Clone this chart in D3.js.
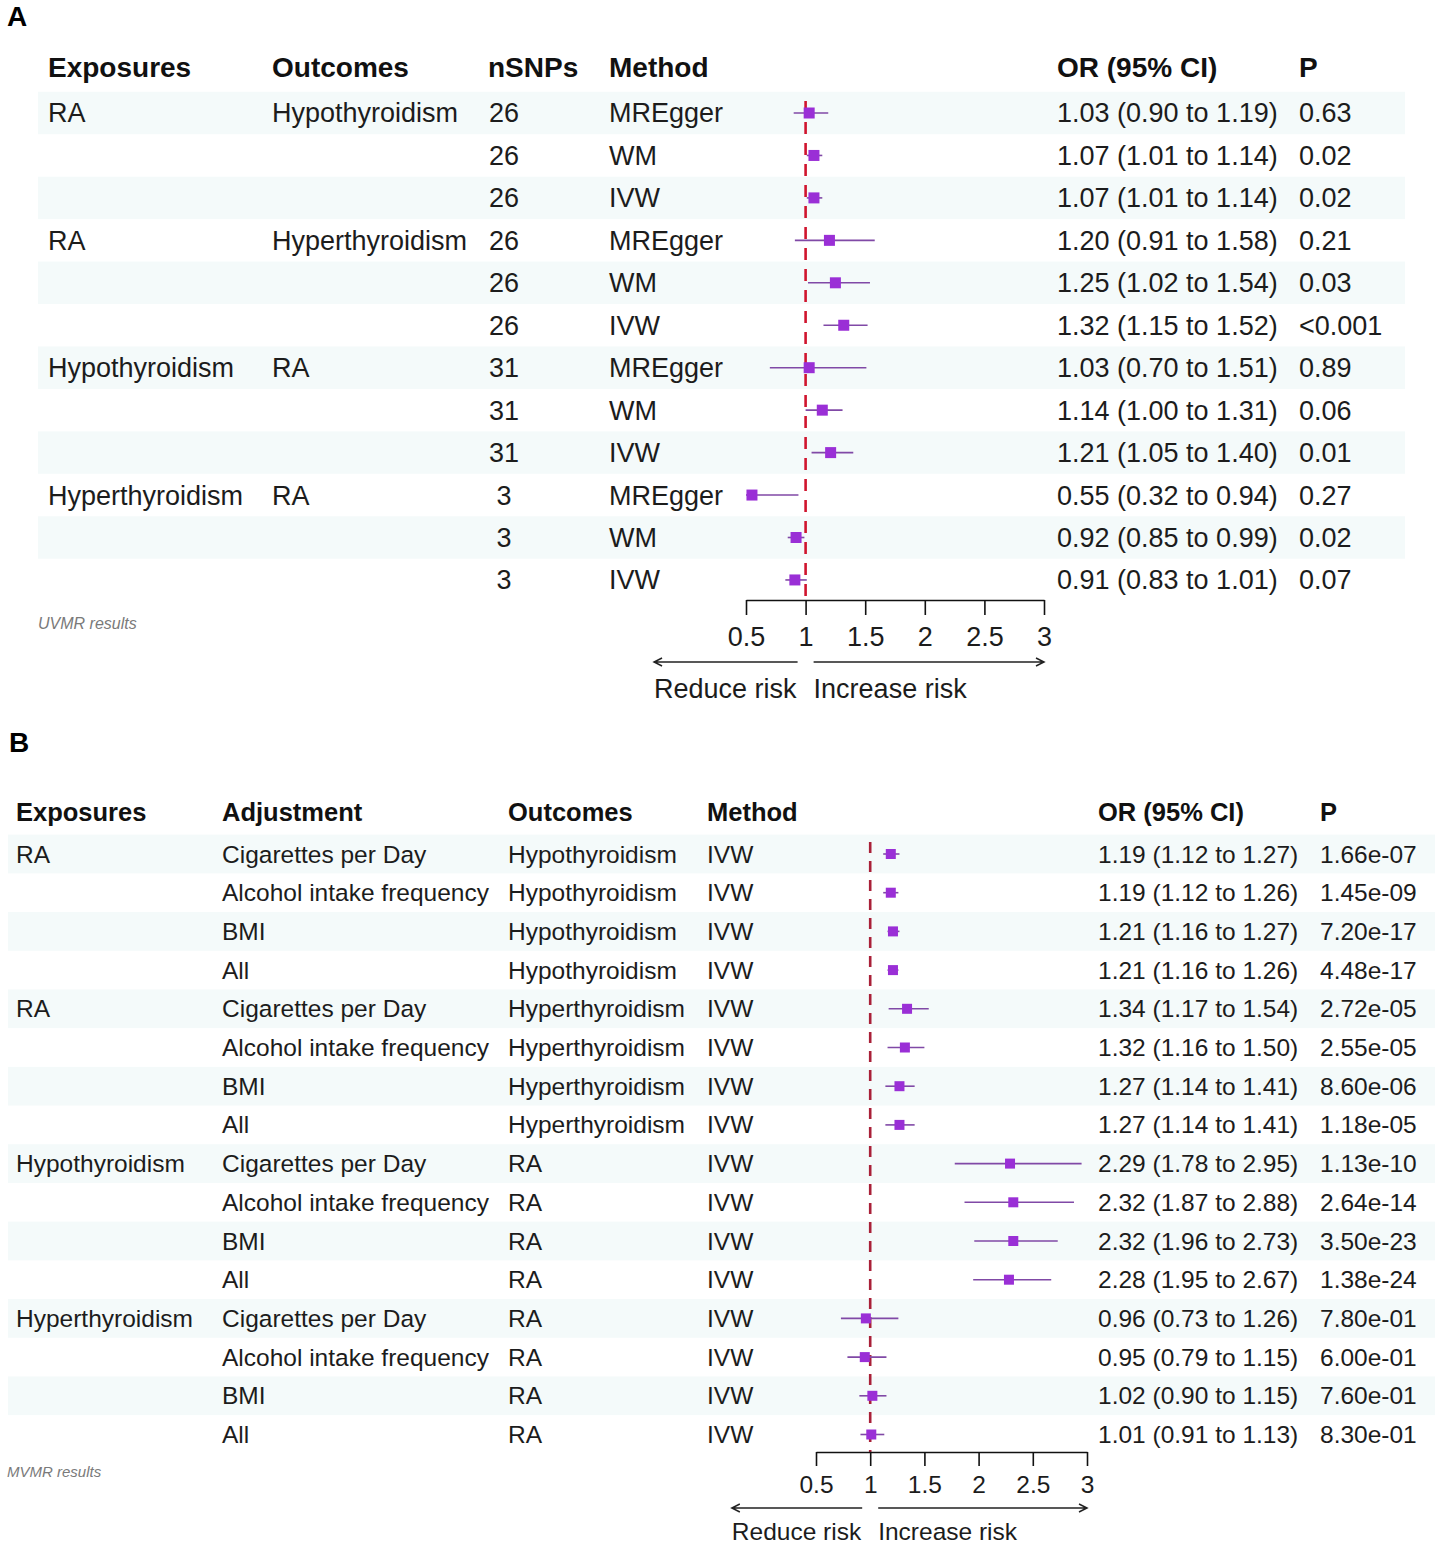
<!DOCTYPE html>
<html>
<head>
<meta charset="utf-8">
<script src="https://cdn.jsdelivr.net/npm/d3@7"></script>
<style>
    body { margin: 0; background: #fff; }
    svg { display: block; font-family: "Liberation Sans", Arial, sans-serif; }
</style>
</head>
<body>
<div id="chart"></div>
<script>
//Colores
let band_color = '#f4fafa';
let box_color = '#9a2fd6';
let ci_color = '#8049a6';
let text_color = '#1c1c1c';

//Datos panel A (UVMR)
let aExposure = ['RA', '', '', 'RA', '', '', 'Hypothyroidism', '', '', 'Hyperthyroidism', '', ''];
let aOutcome = ['Hypothyroidism', '', '', 'Hyperthyroidism', '', '', 'RA', '', '', 'RA', '', ''];
let aSnps = [26, 26, 26, 26, 26, 26, 31, 31, 31, 3, 3, 3];
let aMethod = ['MREgger', 'WM', 'IVW', 'MREgger', 'WM', 'IVW', 'MREgger', 'WM', 'IVW', 'MREgger', 'WM', 'IVW'];
let aOr = [1.03, 1.07, 1.07, 1.20, 1.25, 1.32, 1.03, 1.14, 1.21, 0.55, 0.92, 0.91];
let aLow = [0.90, 1.01, 1.01, 0.91, 1.02, 1.15, 0.70, 1.00, 1.05, 0.32, 0.85, 0.83];
let aHigh = [1.19, 1.14, 1.14, 1.58, 1.54, 1.52, 1.51, 1.31, 1.40, 0.94, 0.99, 1.01];
let aP = ['0.63', '0.02', '0.02', '0.21', '0.03', '<0.001', '0.89', '0.06', '0.01', '0.27', '0.02', '0.07'];

//Datos panel B (MVMR)
let bExposure = ['RA', '', '', '', 'RA', '', '', '', 'Hypothyroidism', '', '', '', 'Hyperthyroidism', '', '', ''];
let bAdjust = ['Cigarettes per Day', 'Alcohol intake frequency', 'BMI', 'All',
    'Cigarettes per Day', 'Alcohol intake frequency', 'BMI', 'All',
    'Cigarettes per Day', 'Alcohol intake frequency', 'BMI', 'All',
    'Cigarettes per Day', 'Alcohol intake frequency', 'BMI', 'All'];
let bOutcome = ['Hypothyroidism', 'Hypothyroidism', 'Hypothyroidism', 'Hypothyroidism',
    'Hyperthyroidism', 'Hyperthyroidism', 'Hyperthyroidism', 'Hyperthyroidism',
    'RA', 'RA', 'RA', 'RA', 'RA', 'RA', 'RA', 'RA'];
let bMethod = ['IVW', 'IVW', 'IVW', 'IVW', 'IVW', 'IVW', 'IVW', 'IVW', 'IVW', 'IVW', 'IVW', 'IVW', 'IVW', 'IVW', 'IVW', 'IVW'];
let bOr = [1.19, 1.19, 1.21, 1.21, 1.34, 1.32, 1.27, 1.27, 2.29, 2.32, 2.32, 2.28, 0.96, 0.95, 1.02, 1.01];
let bLow = [1.12, 1.12, 1.16, 1.16, 1.17, 1.16, 1.14, 1.14, 1.78, 1.87, 1.96, 1.95, 0.73, 0.79, 0.90, 0.91];
let bHigh = [1.27, 1.26, 1.27, 1.26, 1.54, 1.50, 1.41, 1.41, 2.95, 2.88, 2.73, 2.67, 1.26, 1.15, 1.15, 1.13];
let bP = ['1.66e-07', '1.45e-09', '7.20e-17', '4.48e-17', '2.72e-05', '2.55e-05', '8.60e-06', '1.18e-05',
    '1.13e-10', '2.64e-14', '3.50e-23', '1.38e-24', '7.80e-01', '6.00e-01', '7.60e-01', '8.30e-01'];

//Ticks del eje
let axisTicks = [0.5, 1, 1.5, 2, 2.5, 3];

let svg = d3.select('#chart').append('svg')
    .attr('width', 1442)
    .attr('height', 1550);

function fmtCi(o, l, h) {
    return `${o.toFixed(2)} (${l.toFixed(2)} to ${h.toFixed(2)})`;
}

/* Forest plot genérico */
function drawForest(cfg) {
    let g = svg.append('g');
    let n = cfg.or.length;

    //Etiqueta del panel
    g.append('text')
        .attr('x', cfg.label.x).attr('y', cfg.label.y)
        .style('font-weight', 'bold').style('font-size', '28px')
        .attr('fill', '#000')
        .text(cfg.label.text);

    let y = function(i) { return cfg.top + i * cfg.rowH; };

    //Bandas alternas
    g.selectAll('.band')
        .data(d3.range(n).filter(function(i) { return i % 2 == 0; }))
        .enter().append('rect')
        .attr('x', cfg.bandX[0])
        .attr('width', cfg.bandX[1] - cfg.bandX[0])
        .attr('y', function(i) { return y(i) - cfg.rowH / 2; })
        .attr('height', cfg.rowH)
        .attr('fill', band_color);

    //Cabecera
    cfg.columns.forEach(function(c) {
        g.append('text')
            .attr('x', c.x).attr('y', cfg.headerY)
            .attr('dy', '0.35em')
            .style('font-weight', 'bold')
            .style('font-size', cfg.headSize + 'px')
            .attr('fill', '#111')
            .text(c.title);

        g.selectAll(null)
            .data(c.values)
            .enter().append('text')
            .attr('x', c.center ? c.center : c.x)
            .attr('text-anchor', c.center ? 'middle' : 'start')
            .attr('y', function(d, i) { return y(i); })
            .attr('dy', '0.35em')
            .style('font-size', cfg.fontSize + 'px')
            .attr('fill', text_color)
            .text(function(d) { return d; });
    });

    //Escala X
    let x = d3.scaleLinear()
        .domain([0.5, 3])
        .range(cfg.xRange);

    //Línea de referencia
    g.append('line')
        .attr('x1', x(1)).attr('x2', x(1))
        .attr('y1', y(0) - 12)
        .attr('y2', cfg.axisY)
        .attr('stroke', cfg.refColor)
        .attr('stroke-width', 2.6)
        .attr('stroke-dasharray', cfg.dash);

    //Intervalos de confianza
    g.selectAll('.ci')
        .data(d3.range(n))
        .enter().append('line')
        .attr('x1', function(i) { return x(Math.max(0.5, cfg.low[i])); })
        .attr('x2', function(i) { return x(Math.min(3, cfg.high[i])); })
        .attr('y1', function(i) { return y(i); })
        .attr('y2', function(i) { return y(i); })
        .attr('stroke', ci_color)
        .attr('stroke-width', 1.6);

    //Cajas
    let s = cfg.box;
    g.selectAll('.box')
        .data(d3.range(n))
        .enter().append('rect')
        .attr('x', function(i) { return x(cfg.or[i]) - s / 2; })
        .attr('y', function(i) { return y(i) - s / 2; })
        .attr('width', s).attr('height', s)
        .attr('fill', box_color);

    //Eje X
    let xAxis = g.append('g')
        .attr('transform', 'translate(0,' + cfg.axisY + ')')
        .call(d3.axisBottom(x)
            .tickValues(axisTicks)
            .tickSize(cfg.tickSize)
            .tickSizeOuter(0)
            .tickPadding(cfg.tickPad)
            .tickFormat(function(d) { return d; }));
    xAxis.select('.domain').attr('stroke', '#111').attr('stroke-width', 1.6);
    xAxis.selectAll('.tick line').attr('stroke', '#111').attr('stroke-width', 1.6);
    xAxis.selectAll('.tick text')
        .style('font-size', cfg.fontSize + 'px')
        .style('font-family', '"Liberation Sans", Arial, sans-serif')
        .attr('fill', text_color);

    //Flechas
    let reduce = g.append('text')
        .attr('x', x(1) - 9).attr('y', cfg.arrowY + cfg.arrowGap)
        .attr('dy', '0.35em')
        .attr('text-anchor', 'end')
        .style('font-size', cfg.fontSize + 'px')
        .attr('fill', text_color)
        .text('Reduce risk');
    g.append('text')
        .attr('x', x(1) + 8).attr('y', cfg.arrowY + cfg.arrowGap)
        .attr('dy', '0.35em')
        .style('font-size', cfg.fontSize + 'px')
        .attr('fill', text_color)
        .text('Increase risk');

    let leftEnd = reduce.node().getBBox().x;
    let ay = cfg.arrowY;
    let arrowPaths = [
        `M${x(1) - 8},${ay}L${leftEnd},${ay}M${leftEnd + 8},${ay - 4}L${leftEnd},${ay}L${leftEnd + 8},${ay + 4}`,
        `M${x(1) + 8},${ay}L${x(3)},${ay}M${x(3) - 8},${ay - 4}L${x(3)},${ay}L${x(3) - 8},${ay + 4}`
    ];
    g.selectAll('.arrow')
        .data(arrowPaths)
        .enter().append('path')
        .attr('d', function(d) { return d; })
        .attr('fill', 'none')
        .attr('stroke', '#222')
        .attr('stroke-width', 1.5);

    //Nota
    g.append('text')
        .attr('x', cfg.note.x).attr('y', cfg.note.y)
        .attr('dy', '0.35em')
        .style('font-style', 'italic')
        .style('font-size', cfg.note.size + 'px')
        .attr('fill', '#7a7a7a')
        .text(cfg.note.text);
}

drawForest({
    label: {text: 'A', x: 7, y: 26},
    top: 113, rowH: 42.45, headerY: 67,
    bandX: [38, 1405],
    fontSize: 27, headSize: 28,
    columns: [
        {title: 'Exposures', x: 48, values: aExposure},
        {title: 'Outcomes', x: 272, values: aOutcome},
        {title: 'nSNPs', x: 488, center: 504, values: aSnps},
        {title: 'Method', x: 609, values: aMethod},
        {title: 'OR (95% CI)', x: 1057, values: aOr.map(function(d, i) { return fmtCi(d, aLow[i], aHigh[i]); })},
        {title: 'P', x: 1299, values: aP}
    ],
    or: aOr, low: aLow, high: aHigh,
    xRange: [746, 1044],
    axisY: 600, tickSize: 15, tickPad: 12,
    refColor: '#d0152e',
    dash: '12,9', box: 11,
    arrowY: 662, arrowGap: 27,
    note: {text: 'UVMR results', x: 38, y: 623, size: 16}
});

drawForest({
    label: {text: 'B', x: 9, y: 752},
    top: 854, rowH: 38.7, headerY: 812,
    bandX: [8, 1435],
    fontSize: 24.5, headSize: 25.5,
    columns: [
        {title: 'Exposures', x: 16, values: bExposure},
        {title: 'Adjustment', x: 222, values: bAdjust},
        {title: 'Outcomes', x: 508, values: bOutcome},
        {title: 'Method', x: 707, values: bMethod},
        {title: 'OR (95% CI)', x: 1098, values: bOr.map(function(d, i) { return fmtCi(d, bLow[i], bHigh[i]); })},
        {title: 'P', x: 1320, values: bP}
    ],
    or: bOr, low: bLow, high: bHigh,
    xRange: [816, 1087],
    axisY: 1452, tickSize: 14, tickPad: 10,
    refColor: '#a92038',
    dash: '11,8', box: 10,
    arrowY: 1508, arrowGap: 23,
    note: {text: 'MVMR results', x: 7, y: 1472, size: 15}
});
</script>
</body>
</html>
